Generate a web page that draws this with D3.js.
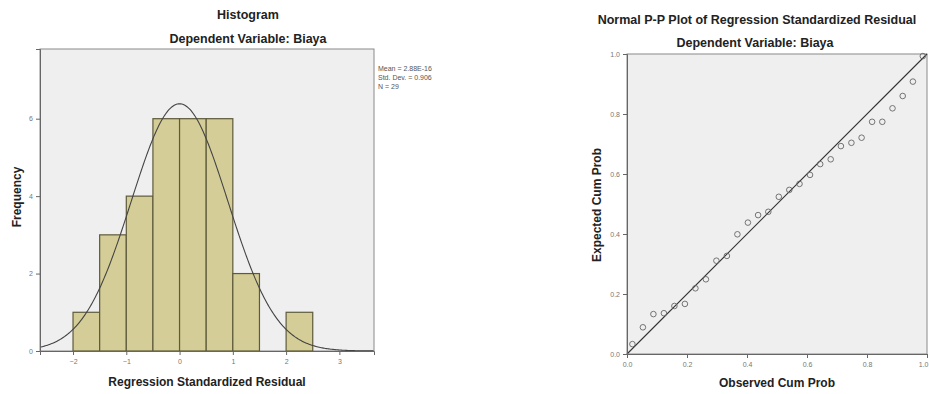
<!DOCTYPE html>
<html>
<head>
<meta charset="utf-8">
<script src="https://cdn.jsdelivr.net/npm/d3@7"></script>
<style>
  body { margin: 0; background: #fff; }
  svg { display: block; font-family: "Liberation Sans", Arial, sans-serif; }
  .tick text { fill: #777; font-size: 7px; }
  .tick line { stroke: #666; }
  .title { font-weight: bold; font-size: 12.5px; fill: #222; }
  .label { font-weight: bold; font-size: 12px; fill: #222; }
</style>
</head>
<body>
<div id="chart"></div>
<script>
// histogram bins (lower edge) and counts
const binStarts = [-2, -1.5, -1, -0.5, 0, 0.5, 1, 1.5, 2];
const binCounts = [1, 3, 4, 6, 6, 6, 2, 0, 1];
const binWidth = 0.5;
const histTicksX = [-2, -1, 0, 1, 2, 3];
const histTicksY = [0, 2, 4, 6];
const statMean = 2.88e-16;
const statSd = 0.906;
const statN = 29;
const legendLines = ['Mean = 2.88E-16', 'Std. Dev. = 0.906', 'N = 29'];

// P-P plot points
const observedCum = [0.018, 0.053, 0.088, 0.123, 0.158, 0.193, 0.228, 0.263, 0.298, 0.333,
  0.368, 0.403, 0.437, 0.471, 0.506, 0.541, 0.575, 0.610, 0.644, 0.679,
  0.713, 0.748, 0.782, 0.817, 0.851, 0.885, 0.919, 0.953, 0.986];
const expectedCum = [0.033, 0.089, 0.133, 0.136, 0.160, 0.167, 0.219, 0.249, 0.311, 0.327,
  0.399, 0.438, 0.463, 0.474, 0.524, 0.547, 0.567, 0.597, 0.633, 0.649,
  0.693, 0.704, 0.721, 0.774, 0.774, 0.819, 0.860, 0.908, 0.993];
const ppTicks = [0, 0.2, 0.4, 0.6, 0.8, 1.0];

const svg = d3.select('#chart').append('svg')
  .attr('width', 929)
  .attr('height', 394);

// ---------- histogram ----------
const hx = d3.scaleLinear().domain([-2.62, 3.65]).range([40, 374]);
const hy = d3.scaleLinear().domain([0, 7.8]).range([351, 49]);

svg.append('rect')
  .attr('x', hx.range()[0]).attr('y', hy.range()[1])
  .attr('width', hx.range()[1] - hx.range()[0])
  .attr('height', hy.range()[0] - hy.range()[1])
  .attr('fill', '#efefef')
  .attr('stroke', '#8a8a8a');

svg.selectAll('.bar')
  .data(binStarts.map((s, i) => ({s, c: binCounts[i]})).filter(d => d.c > 0))
  .enter().append('rect')
  .attr('class', 'bar')
  .attr('x', d => hx(d.s))
  .attr('width', d => hx(d.s + binWidth) - hx(d.s))
  .attr('y', d => hy(d.c))
  .attr('height', d => hy(0) - hy(d.c))
  .attr('fill', '#d4cd97')
  .attr('stroke', '#5e5a3a')
  .attr('stroke-width', 1.2);

const density = x => statN * binWidth / (statSd * Math.sqrt(2 * Math.PI)) *
  Math.exp(-0.5 * Math.pow((x - statMean) / statSd, 2));
const curveX = d3.range(hx.domain()[0], hx.domain()[1] + 0.001, 0.02);
svg.append('path')
  .datum(curveX)
  .attr('fill', 'none')
  .attr('stroke', '#444')
  .attr('stroke-width', 1.1)
  .attr('d', d3.line().x(d => hx(d)).y(d => hy(density(d))));

svg.append('g')
  .attr('transform', `translate(0,${hy(0)})`)
  .call(d3.axisBottom(hx).tickValues(histTicksX).tickSize(4).tickPadding(4).tickFormat(d3.format('d')))
  .call(g => g.select('.domain').attr('stroke', '#666'));

svg.append('g')
  .attr('transform', `translate(${hx.range()[0]},0)`)
  .call(d3.axisLeft(hy).tickValues(histTicksY).tickSize(4).tickPadding(3).tickFormat(d3.format('d')))
  .call(g => g.select('.domain').attr('stroke', '#666'));

svg.append('text').attr('class', 'title')
  .attr('x', 248).attr('y', 19).attr('text-anchor', 'middle').text('Histogram');
svg.append('text').attr('class', 'title')
  .attr('x', 248).attr('y', 43).attr('text-anchor', 'middle').text('Dependent Variable: Biaya');

svg.append('text').attr('class', 'label')
  .attr('x', 207).attr('y', 386).attr('text-anchor', 'middle')
  .text('Regression Standardized Residual');
svg.append('g')
  .attr('transform', 'translate(21,197)')
  .append('text').attr('class', 'label')
  .attr('transform', 'rotate(-90)')
  .attr('text-anchor', 'middle')
  .text('Frequency');

svg.append('g')
  .selectAll('text')
  .data(legendLines)
  .enter().append('text')
  .attr('x', 378)
  .attr('y', (d, i) => 71 + i * 9)
  .attr('font-size', 7)
  .attr('fill', '#555')
  .text(d => d);

// ---------- P-P plot ----------
const px = d3.scaleLinear().domain([0, 1]).range([627, 927]);
const py = d3.scaleLinear().domain([0, 1]).range([354, 54]);

svg.append('rect')
  .attr('x', px(0)).attr('y', py(1))
  .attr('width', px(1) - px(0))
  .attr('height', py(0) - py(1))
  .attr('fill', '#efefef')
  .attr('stroke', '#8a8a8a');

svg.append('line')
  .attr('x1', px(0)).attr('y1', py(0))
  .attr('x2', px(1)).attr('y2', py(1))
  .attr('stroke', '#333')
  .attr('stroke-width', 1.1);

svg.selectAll('.pt')
  .data(observedCum.map((o, i) => [o, expectedCum[i]]))
  .enter().append('circle')
  .attr('class', 'pt')
  .attr('cx', d => px(d[0]))
  .attr('cy', d => py(d[1]))
  .attr('r', 2.8)
  .attr('fill', 'none')
  .attr('stroke', '#666')
  .attr('stroke-width', 0.9);

svg.append('g')
  .attr('transform', `translate(0,${py(0)})`)
  .call(d3.axisBottom(px).tickValues(ppTicks).tickSize(4).tickPadding(4).tickFormat(d3.format('.1f')))
  .call(g => g.select('.domain').attr('stroke', '#666'))
  // last label sits at the right edge of the window, keep it inside
  .call(g => g.selectAll('.tick text').filter(d => d === 1).attr('text-anchor', 'end').attr('dx', 1));

svg.append('g')
  .attr('transform', `translate(${px(0)},0)`)
  .call(d3.axisLeft(py).tickValues(ppTicks).tickSize(4).tickPadding(3).tickFormat(d3.format('.1f')))
  .call(g => g.select('.domain').attr('stroke', '#666'));

svg.append('text').attr('class', 'title')
  .attr('x', 757).attr('y', 24).attr('text-anchor', 'middle')
  .text('Normal P-P Plot of Regression Standardized Residual');
svg.append('text').attr('class', 'title')
  .attr('x', 755).attr('y', 47).attr('text-anchor', 'middle').text('Dependent Variable: Biaya');

svg.append('text').attr('class', 'label')
  .attr('x', 777).attr('y', 387).attr('text-anchor', 'middle')
  .text('Observed Cum Prob');
svg.append('g')
  .attr('transform', 'translate(601,205)')
  .append('text').attr('class', 'label')
  .attr('transform', 'rotate(-90)')
  .attr('text-anchor', 'middle')
  .text('Expected Cum Prob');
</script>
</body>
</html>
